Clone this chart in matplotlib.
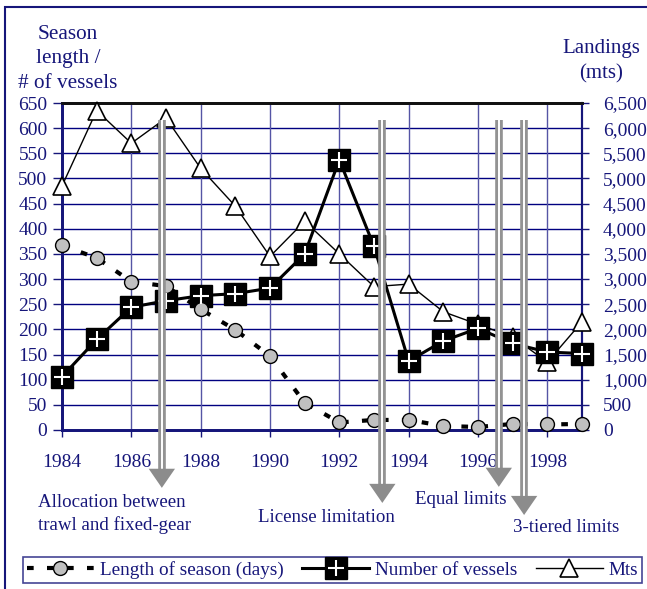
import matplotlib
matplotlib.use("Agg")
import matplotlib.pyplot as plt
from matplotlib.lines import Line2D
from matplotlib.patches import Polygon, Rectangle

plt.rcParams['font.family'] = ['Liberation Serif', 'DejaVu Serif']

years = list(range(1984, 2000))
season_days = [367, 342, 295, 286, 240, 199, 147, 54, 15, 20, 20, 8, 6, 12, 11, 12]
vessels = [106, 180, 244, 257, 267, 271, 282, 350, 537, 365, 137, 177, 202, 172, 155, 152]
mts = [4850, 6350, 5700, 6200, 5200, 4450, 3450, 4150, 3500, 2850, 2900, 2350, 2100, 1850, 1350, 2150]

left_ticks = list(range(0, 651, 50))
right_ticks = list(range(0, 6501, 500))
x_ticks = list(range(1984, 1999, 2))

events = ["Allocation between\ntrawl and fixed-gear", "License limitation", "Equal limits", "3-tiered limits"]
event_x = [1986.88, 1993.24, 1996.6, 1997.33]
event_tip = [-115, -145, -113, -169]

NAVY = '#16167a'
W, H = 647, 589
fig = plt.figure(figsize=(W / 100, H / 100), dpi=100)

def fx(px):
    return px / W

def fy(py):
    return 1 - py / H

ax = fig.add_axes([fx(62), fy(430), fx(582) - fx(62), fy(103) - fy(430)])
ax2 = ax.twinx()

ax.set_xlim(1984, 1999)
ax.set_ylim(0, 650)
ax2.set_ylim(0, 6500)

# grid
for y in left_ticks[1:]:
    ax.axhline(y, color='#000080', lw=1.0, zorder=1)
for x in x_ticks[1:]:
    ax.axvline(x, color='#5555a5', lw=1.0, zorder=1)

ax.set_xticks(x_ticks)
ax.set_xticklabels([str(x) for x in x_ticks])
ax.set_yticks(left_ticks)
ax.set_yticklabels([str(v) for v in left_ticks])
ax2.set_yticks(right_ticks)
ax2.set_yticklabels([f"{v:,}" for v in right_ticks])

TS = 14
ax.tick_params(axis='x', length=5, width=1, color=NAVY, pad=12, labelsize=TS, labelcolor=NAVY)
ax.tick_params(axis='y', length=6.5, width=1, color=NAVY, pad=4, labelsize=TS, labelcolor=NAVY)
ax2.tick_params(axis='y', length=5, width=1, color=NAVY, pad=10, labelsize=TS, labelcolor=NAVY)

for a in (ax, ax2):
    a.spines['left'].set_color(NAVY)
    a.spines['left'].set_linewidth(2)
    a.spines['bottom'].set_color(NAVY)
    a.spines['bottom'].set_linewidth(2)
    a.spines['right'].set_color(NAVY)
    a.spines['right'].set_linewidth(1.5)
    a.spines['top'].set_color('#111111')
    a.spines['top'].set_linewidth(2)
    a.set_zorder(2)
ax2.set_zorder(3)
ax2.patch.set_visible(False)

# series
l_mts, = ax2.plot(years, mts, color='black', lw=1.0, marker='^', markersize=13,
                  markerfacecolor='white', markeredgecolor='black', markeredgewidth=1.2,
                  zorder=3, clip_on=False)
l_ves, = ax.plot(years, vessels, color='black', lw=2.2, marker='s', markersize=16,
                 markerfacecolor='black', markeredgecolor='black', zorder=4, clip_on=False)
l_plus, = ax.plot(years, vessels, linestyle='none', marker='+', markersize=11,
                  markeredgecolor='white', markeredgewidth=1.5, zorder=5, clip_on=False)
l_sea, = ax.plot(years, season_days, color='black', lw=3, linestyle=(0, (1.6, 3.2)),
                 marker='o', markersize=10, markerfacecolor='#c0c0c0',
                 markeredgecolor='black', markeredgewidth=1.0, zorder=4, clip_on=False)

for ln in (l_ves, l_plus, l_sea):
    ln.remove()
    ax2.add_line(ln)
    ln.set_transform(ax.transData)

# arrows
for x, tip in zip(event_x, event_tip):
    top = 616
    head_h = 38
    ax2.plot([x, x], [top, tip + head_h], transform=ax.transData, color='#939393',
             lw=5.5, solid_capstyle='butt', zorder=8, clip_on=False)
    ax2.plot([x, x], [top, tip + head_h], transform=ax.transData, color='white',
             lw=1.4, solid_capstyle='butt', zorder=9, clip_on=False)
    hw = 0.38
    tri = Polygon([[x - hw, tip + head_h], [x + hw, tip + head_h], [x, tip]],
                  closed=True, facecolor='#8c8c8c', edgecolor='none',
                  transform=ax.transData, zorder=9, clip_on=False)
    ax2.add_patch(tri)

# event labels
ES = 13.6
fig.text(fx(38), fy(514), events[0], ha='left', va='center', fontsize=ES,
         color=NAVY, linespacing=1.4)
fig.text(fx(326), fy(517), events[1], ha='center', va='center', fontsize=ES, color=NAVY)
fig.text(fx(461), fy(500), events[2], ha='center', va='center', fontsize=ES, color=NAVY)
fig.text(fx(566), fy(528), events[3], ha='center', va='center', fontsize=ES, color=NAVY)

# axis titles
fig.text(fx(68), fy(59), "Season\nlength /\n# of vessels", ha='center', va='center',
         fontsize=15.3, color=NAVY, linespacing=1.4)
fig.text(fx(601), fy(61), "Landings\n(mts)", ha='center', va='center',
         fontsize=15, color=NAVY, linespacing=1.45)

# legend
h_ves = (Line2D([], [], color='black', lw=2.2, marker='s', markersize=16, markerfacecolor='black'),
         Line2D([], [], linestyle='none', marker='+', markersize=11, markeredgecolor='white',
                markeredgewidth=1.5))
h_sea = Line2D([], [], color='black', lw=3, linestyle=(0, (1.6, 3.2)), marker='o', markersize=10,
               markerfacecolor='#c0c0c0', markeredgecolor='black')
h_mts = Line2D([], [], color='black', lw=1.0, marker='^', markersize=13,
               markerfacecolor='white', markeredgecolor='black', markeredgewidth=1.2)
leg = fig.legend([h_sea, h_ves, h_mts], ["Length of season (days)", "Number of vessels", "Mts"],
                 ncol=3, loc='lower left', mode='expand',
                 bbox_to_anchor=(fx(23), fy(583), fx(642) - fx(23), fy(553) - fy(583)),
                 frameon=True, fancybox=False, edgecolor=NAVY, fontsize=13.8,
                 handlelength=3.5, handletextpad=0.3, columnspacing=0.9,
                 borderpad=0.2, borderaxespad=0)
for t in leg.get_texts():
    t.set_color(NAVY)
leg.get_frame().set_linewidth(1.2)

# outer border
fig.add_artist(Rectangle((fx(5), fy(700)), 1.2, fy(7) - fy(700), transform=fig.transFigure,
                         fill=False, edgecolor=NAVY, lw=1.5))

fig.savefig("out.png", dpi=100)
